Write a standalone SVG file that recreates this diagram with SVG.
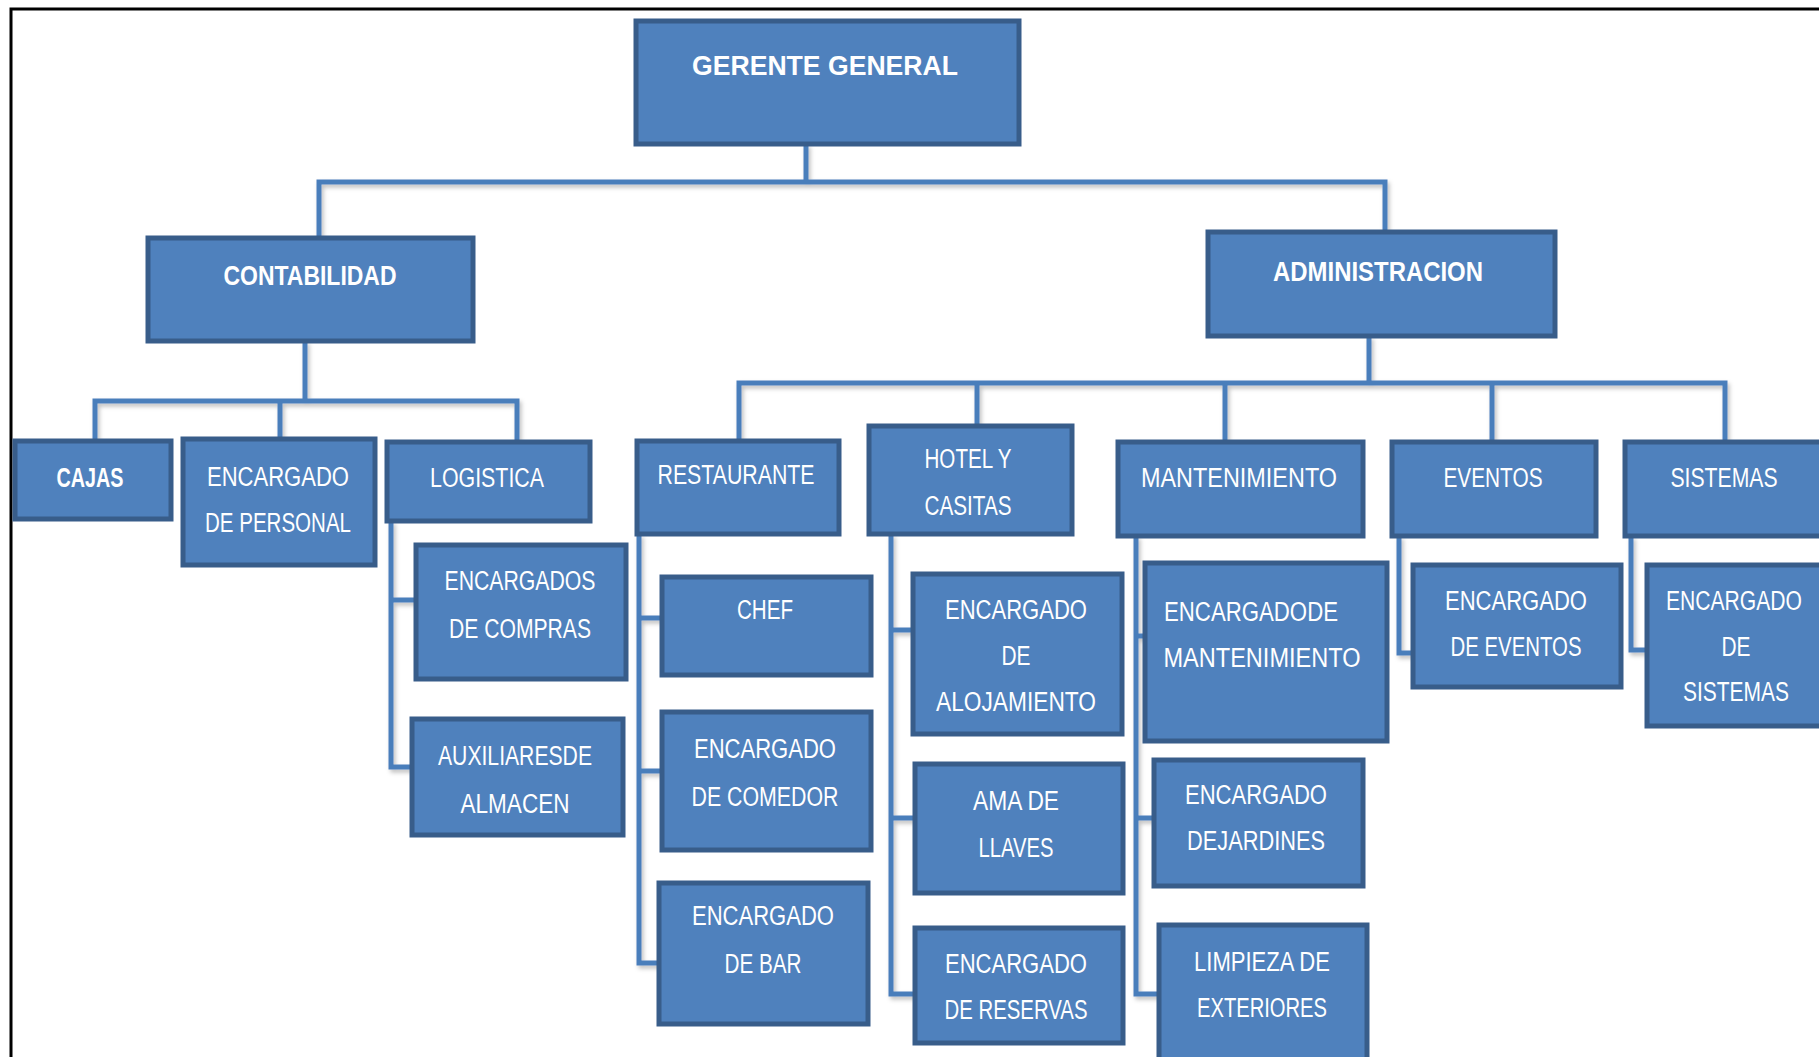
<svg xmlns="http://www.w3.org/2000/svg" width="1819" height="1057" viewBox="0 0 1819 1057">
  <defs>
    <filter id="lineShadow" x="-5%" y="-5%" width="110%" height="120%">
      <feDropShadow dx="2" dy="3" stdDeviation="2" flood-color="#000" flood-opacity="0.25"/>
    </filter>
  </defs>
  <style>
    .box { fill: #4F81BD; stroke: #385D8A; stroke-width: 5; }
    .lbl { fill: #FFFFFF; font-family: "Liberation Sans", Arial, sans-serif; font-size: 27px; text-anchor: middle; }
    .bold { font-weight: bold; }
    .conn { fill: none; stroke: #4A7EBB; stroke-width: 5; stroke-linejoin: miter; }
  </style>
  <rect width="1819" height="1057" fill="#FFFFFF"/>
  <!-- page frame -->
  <rect x="11" y="9" width="1830" height="1070" fill="none" stroke="#000000" stroke-width="3"/>

  <g id="connectors" filter="url(#lineShadow)">
    <!-- top level -->
    <path class="conn" d="M806 144 V182 M319 238 V182 H1385 V232"/>
    <!-- contabilidad -->
    <path class="conn" d="M305 341 V401 M95 442 V401 H517 V442 M280 401 V439"/>
    <!-- logistica -->
    <path class="conn" d="M391 521 V767 H414 M391 600 H418"/>
    <!-- administracion -->
    <path class="conn" d="M1369 336 V383 M739 441 V383 H1725 V442 M977 383 V426 M1225 383 V442 M1492 383 V442"/>
    <!-- restaurante -->
    <path class="conn" d="M639 534 V963 H659 M639 618 H662 M639 771 H662"/>
    <!-- hotel y casitas -->
    <path class="conn" d="M891 534 V994 H915 M891 630 H913 M891 818 H915"/>
    <!-- mantenimiento -->
    <path class="conn" d="M1136 536 V994 H1159 M1136 636 H1145 M1136 818 H1154"/>
    <!-- eventos -->
    <path class="conn" d="M1399 536 V653 H1413"/>
    <!-- sistemas -->
    <path class="conn" d="M1631 536 V650 H1647"/>
  </g>

  <g id="gerente-general">
    <rect class="box" x="636" y="21" width="383" height="123"/>
    <text class="lbl bold" x="825" y="75" textLength="266" lengthAdjust="spacingAndGlyphs">GERENTE GENERAL</text>
  </g>

  <g id="contabilidad">
    <rect class="box" x="148" y="238" width="325" height="103"/>
    <text class="lbl bold" x="310" y="285" textLength="173" lengthAdjust="spacingAndGlyphs">CONTABILIDAD</text>
  </g>

  <g id="administracion">
    <rect class="box" x="1208" y="232" width="347" height="104"/>
    <text class="lbl bold" x="1378" y="281" textLength="210" lengthAdjust="spacingAndGlyphs">ADMINISTRACION</text>
  </g>

  <g id="cajas">
    <rect class="box" x="15" y="441" width="156" height="78"/>
    <text class="lbl bold" x="90" y="487" textLength="67" lengthAdjust="spacingAndGlyphs">CAJAS</text>
  </g>

  <g id="encargado-personal">
    <rect class="box" x="183" y="439" width="192" height="126"/>
    <text class="lbl" x="278" y="486" textLength="142" lengthAdjust="spacingAndGlyphs">ENCARGADO</text>
    <text class="lbl" x="278" y="532" textLength="146" lengthAdjust="spacingAndGlyphs">DE PERSONAL</text>
  </g>

  <g id="logistica">
    <rect class="box" x="387" y="442" width="203" height="79"/>
    <text class="lbl" x="487" y="487" textLength="114" lengthAdjust="spacingAndGlyphs">LOGISTICA</text>
  </g>

  <g id="encargados-compras">
    <rect class="box" x="416" y="545" width="210" height="134"/>
    <text class="lbl" x="520" y="590" textLength="151" lengthAdjust="spacingAndGlyphs">ENCARGADOS</text>
    <text class="lbl" x="520" y="638" textLength="142" lengthAdjust="spacingAndGlyphs">DE COMPRAS</text>
  </g>

  <g id="auxiliares-almacen">
    <rect class="box" x="412" y="719" width="211" height="116"/>
    <text class="lbl" x="515" y="765" textLength="154" lengthAdjust="spacingAndGlyphs">AUXILIARESDE</text>
    <text class="lbl" x="515" y="813" textLength="109" lengthAdjust="spacingAndGlyphs">ALMACEN</text>
  </g>

  <g id="restaurante">
    <rect class="box" x="637" y="441" width="202" height="93"/>
    <text class="lbl" x="736" y="484" textLength="157" lengthAdjust="spacingAndGlyphs">RESTAURANTE</text>
  </g>

  <g id="hotel-casitas">
    <rect class="box" x="869" y="426" width="203" height="108"/>
    <text class="lbl" x="968" y="468" textLength="87" lengthAdjust="spacingAndGlyphs">HOTEL Y</text>
    <text class="lbl" x="968" y="515" textLength="87" lengthAdjust="spacingAndGlyphs">CASITAS</text>
  </g>

  <g id="mantenimiento">
    <rect class="box" x="1118" y="442" width="245" height="94"/>
    <text class="lbl" x="1239" y="487" textLength="196" lengthAdjust="spacingAndGlyphs">MANTENIMIENTO</text>
  </g>

  <g id="eventos">
    <rect class="box" x="1392" y="442" width="204" height="94"/>
    <text class="lbl" x="1493" y="487" textLength="99" lengthAdjust="spacingAndGlyphs">EVENTOS</text>
  </g>

  <g id="sistemas">
    <rect class="box" x="1625" y="442" width="210" height="94"/>
    <text class="lbl" x="1724" y="487" textLength="107" lengthAdjust="spacingAndGlyphs">SISTEMAS</text>
  </g>

  <g id="chef">
    <rect class="box" x="662" y="577" width="209" height="98"/>
    <text class="lbl" x="765" y="619" textLength="56" lengthAdjust="spacingAndGlyphs">CHEF</text>
  </g>

  <g id="encargado-comedor">
    <rect class="box" x="662" y="712" width="209" height="138"/>
    <text class="lbl" x="765" y="758" textLength="142" lengthAdjust="spacingAndGlyphs">ENCARGADO</text>
    <text class="lbl" x="765" y="806" textLength="147" lengthAdjust="spacingAndGlyphs">DE COMEDOR</text>
  </g>

  <g id="encargado-bar">
    <rect class="box" x="659" y="883" width="209" height="141"/>
    <text class="lbl" x="763" y="925" textLength="142" lengthAdjust="spacingAndGlyphs">ENCARGADO</text>
    <text class="lbl" x="763" y="973" textLength="77" lengthAdjust="spacingAndGlyphs">DE BAR</text>
  </g>

  <g id="encargado-alojamiento">
    <rect class="box" x="913" y="574" width="209" height="160"/>
    <text class="lbl" x="1016" y="619" textLength="142" lengthAdjust="spacingAndGlyphs">ENCARGADO</text>
    <text class="lbl" x="1016" y="665" textLength="29" lengthAdjust="spacingAndGlyphs">DE</text>
    <text class="lbl" x="1016" y="711" textLength="160" lengthAdjust="spacingAndGlyphs">ALOJAMIENTO</text>
  </g>

  <g id="ama-de-llaves">
    <rect class="box" x="915" y="764" width="208" height="129"/>
    <text class="lbl" x="1016" y="810" textLength="86" lengthAdjust="spacingAndGlyphs">AMA DE</text>
    <text class="lbl" x="1016" y="857" textLength="75" lengthAdjust="spacingAndGlyphs">LLAVES</text>
  </g>

  <g id="encargado-reservas">
    <rect class="box" x="915" y="928" width="208" height="115"/>
    <text class="lbl" x="1016" y="973" textLength="142" lengthAdjust="spacingAndGlyphs">ENCARGADO</text>
    <text class="lbl" x="1016" y="1019" textLength="143" lengthAdjust="spacingAndGlyphs">DE RESERVAS</text>
  </g>

  <g id="encargado-mantenimiento">
    <rect class="box" x="1145" y="563" width="242" height="178"/>
    <text class="lbl" x="1251" y="621" textLength="174" lengthAdjust="spacingAndGlyphs">ENCARGADODE</text>
    <text class="lbl" x="1262" y="667" textLength="197" lengthAdjust="spacingAndGlyphs">MANTENIMIENTO</text>
  </g>

  <g id="encargado-jardines">
    <rect class="box" x="1154" y="760" width="209" height="126"/>
    <text class="lbl" x="1256" y="804" textLength="142" lengthAdjust="spacingAndGlyphs">ENCARGADO</text>
    <text class="lbl" x="1256" y="850" textLength="138" lengthAdjust="spacingAndGlyphs">DEJARDINES</text>
  </g>

  <g id="limpieza-exteriores">
    <rect class="box" x="1159" y="925" width="208" height="140"/>
    <text class="lbl" x="1262" y="971" textLength="136" lengthAdjust="spacingAndGlyphs">LIMPIEZA DE</text>
    <text class="lbl" x="1262" y="1017" textLength="130" lengthAdjust="spacingAndGlyphs">EXTERIORES</text>
  </g>

  <g id="encargado-eventos">
    <rect class="box" x="1413" y="565" width="208" height="122"/>
    <text class="lbl" x="1516" y="610" textLength="142" lengthAdjust="spacingAndGlyphs">ENCARGADO</text>
    <text class="lbl" x="1516" y="656" textLength="131" lengthAdjust="spacingAndGlyphs">DE EVENTOS</text>
  </g>

  <g id="encargado-sistemas">
    <rect class="box" x="1647" y="565" width="190" height="161"/>
    <text class="lbl" x="1734" y="610" textLength="136" lengthAdjust="spacingAndGlyphs">ENCARGADO</text>
    <text class="lbl" x="1736" y="656" textLength="29" lengthAdjust="spacingAndGlyphs">DE</text>
    <text class="lbl" x="1736" y="701" textLength="106" lengthAdjust="spacingAndGlyphs">SISTEMAS</text>
  </g>
</svg>
